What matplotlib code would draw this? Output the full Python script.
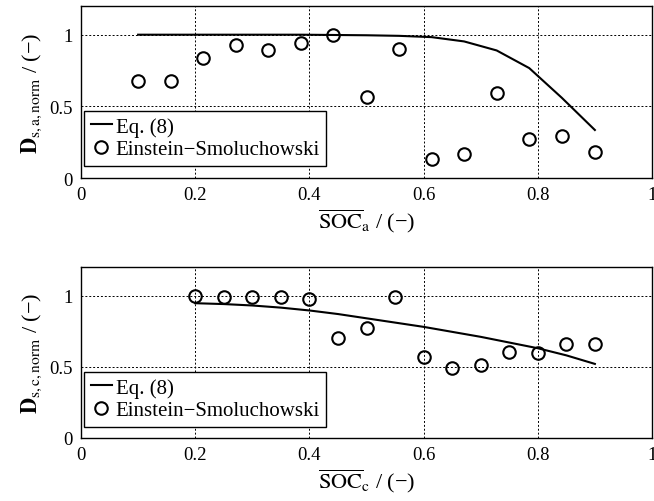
import numpy as np
import matplotlib.pyplot as plt

plt.rcParams['font.family'] = ['Liberation Serif', 'DejaVu Serif']
plt.rcParams['mathtext.fontset'] = 'stix'

# anode (top)
soc_a = [0.1, 0.157, 0.214, 0.271, 0.328, 0.385, 0.442, 0.5,
         0.557, 0.614, 0.671, 0.728, 0.785, 0.842, 0.9]
es_a = [0.68, 0.68, 0.84, 0.925, 0.89, 0.94, 1.0, 0.565,
        0.90, 0.133, 0.165, 0.59, 0.275, 0.296, 0.184]
eq8_a = [1.0, 1.0, 1.0, 1.0, 1.0, 1.0, 0.998, 0.996,
         0.992, 0.983, 0.953, 0.89, 0.767, 0.56, 0.335]

# cathode (bottom)
soc_c = [0.2, 0.25, 0.3, 0.35, 0.4, 0.45, 0.5, 0.55,
         0.6, 0.65, 0.7, 0.75, 0.8, 0.85, 0.9]
es_c = [1.0, 0.99, 0.993, 0.99, 0.975, 0.705, 0.77, 0.993,
        0.568, 0.49, 0.51, 0.607, 0.60, 0.657, 0.657]
eq8_c = [0.946, 0.94, 0.93, 0.915, 0.895, 0.87, 0.84, 0.81,
         0.78, 0.745, 0.71, 0.67, 0.63, 0.58, 0.52]

xticks = [0, 0.2, 0.4, 0.6, 0.8, 1]
xticklabels = ['0', '0.2', '0.4', '0.6', '0.8', '1']
yticks = [0, 0.5, 1]
yticklabels = ['0', '0.5', '1']

fig = plt.figure(figsize=(6.54, 5.02), dpi=100)
ax1 = fig.add_axes([0.1239, 0.6434, 0.873, 0.3426])
ax2 = fig.add_axes([0.1239, 0.1255, 0.873, 0.3406])


def style(ax, x, es, eq, sub, leg_top):
    ax.plot(x, eq, '-', color='black', lw=1.5, label='Eq. (8)', zorder=3)
    ax.plot(x, es, 'o', mfc='none', mec='black', mew=1.5, ms=9,
            label='Einstein\u2212Smoluchowski', zorder=4)
    ax.set_xlim(0, 1)
    ax.set_ylim(0, 1.2)
    ax.set_xticks(xticks)
    ax.set_xticklabels(xticklabels)
    ax.set_yticks(yticks)
    ax.set_yticklabels(yticklabels)
    ax.tick_params(direction='in', length=0, labelsize=13.5, pad=6)
    ax.grid(True, color='black', linestyle=(0, (2, 2)), lw=0.7)
    for s in ax.spines.values():
        s.set_linewidth(1.0)
    ax.set_ylabel(r'$\mathbf{D}_{\mathrm{s,%s,norm}}$' % sub + ' / (\u2212)',
                  fontsize=16, labelpad=4)
    ax.set_xlabel(r'$\overline{\mathrm{SOC}}_{\mathrm{%s}}$' % sub + ' / (\u2212)',
                  fontsize=16, labelpad=2)
    leg = ax.legend(loc='upper left', bbox_to_anchor=(0.006, leg_top),
                    fontsize=15, frameon=True, fancybox=False,
                    edgecolor='black', framealpha=1, handlelength=1.0,
                    handletextpad=0.2, borderpad=0.3, labelspacing=0.15,
                    borderaxespad=0)
    leg.get_frame().set_linewidth(1.0)


style(ax1, soc_a, es_a, eq8_a, 'a', 0.392)
style(ax2, soc_c, es_c, eq8_c, 'c', 0.388)

plt.savefig('out.png', dpi=100)
